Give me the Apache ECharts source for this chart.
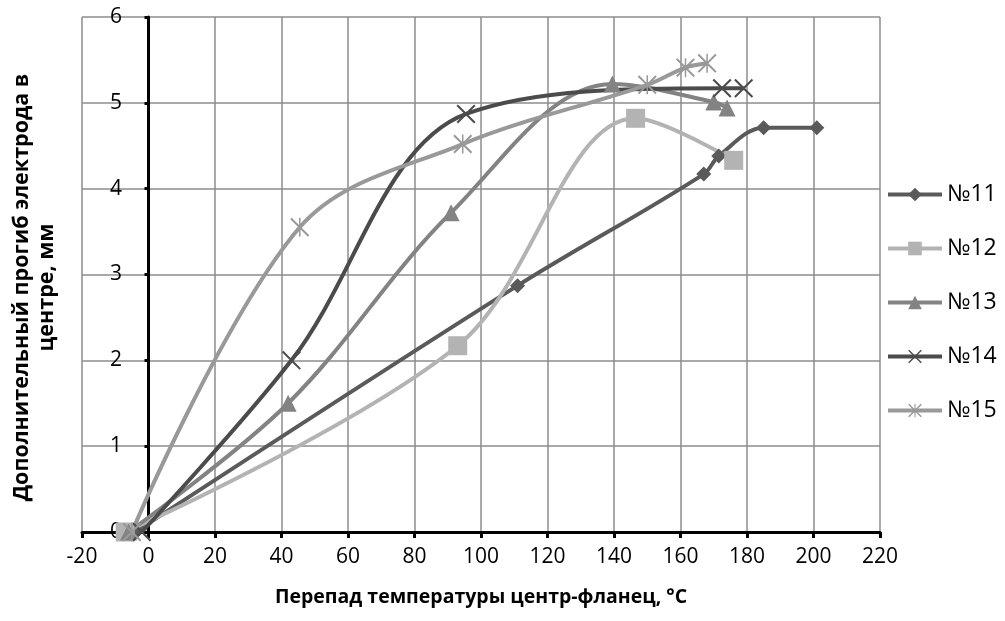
<!DOCTYPE html>
<html>
<head>
<meta charset="utf-8">
<script src="https://cdn.jsdelivr.net/npm/echarts@6/dist/echarts.min.js"></script>
<style>
  html, body { margin: 0; padding: 0; background: #fff; }
  #chart { width: 1005px; height: 621px; }
</style>
</head>
<body>
<div id="chart"></div>
<script>
// Temperature difference centre–flange (°C) vs. extra electrode deflection (mm)
const seriesNames = ['№11', '№12', '№13', '№14', '№15'];

const s11x = [-4, 111, 167, 171.5, 185, 201];
const s11y = [0, 2.87, 4.17, 4.38, 4.71, 4.71];

const s12x = [-7, 93, 146.5, 176];
const s12y = [0, 2.17, 4.82, 4.33];

const s13x = [-6, 42, 91, 139.5, 170, 174];
const s13y = [0, 1.5, 3.72, 5.22, 5.01, 4.94];

const s14x = [-2, 43, 95.5, 172.5, 179];
const s14y = [0, 2.0, 4.87, 5.17, 5.17];

const s15x = [-5, 45.5, 94.5, 150, 161.5, 168];
const s15y = [0, 3.55, 4.52, 5.21, 5.41, 5.46];

const xTicks = { min: -20, max: 220, step: 20 };
const yTicks = { min: 0, max: 6, step: 1 };

const xTitle = 'Перепад температуры центр-фланец, °C';
const yTitle = 'Дополнительный прогиб электрода в\nцентре, мм';

const FONT = '"Open Sans", "Noto Sans", sans-serif';

// thin-stroke marker shapes built as filled outlines
const crossPath = 'path://M1.5,0 L10,8.5 L18.5,0 L20,1.5 L11.5,10 L20,18.5 L18.5,20 L10,11.5 L1.5,20 L0,18.5 L8.5,10 L0,1.5 Z';
const starPath = crossPath + ' M9.2,0 L10.8,0 L10.8,20 L9.2,20 Z';

const styles = [
  { color: '#5a5a5a', symbol: 'diamond', size: 15 },
  { color: '#b3b3b3', symbol: 'rect', size: 19 },
  { color: '#838383', symbol: 'triangle', size: 17 },
  { color: '#4b4b4b', symbol: crossPath, size: 19 },
  { color: '#999999', symbol: starPath, size: 19 }
];

const xs = [s11x, s12x, s13x, s14x, s15x];
const ys = [s11y, s12y, s13y, s14y, s15y];

const series = seriesNames.map((name, i) => ({
  name: name,
  type: 'line',
  smooth: 0.35,
  data: xs[i].map((x, k) => [x, ys[i][k]]),
  symbol: styles[i].symbol,
  symbolSize: styles[i].size,
  showAllSymbol: true,
  lineStyle: { color: styles[i].color, width: 4 },
  itemStyle: { color: styles[i].color },
  emphasis: { disabled: true },
  animation: false
}));

const chart = echarts.init(document.getElementById('chart'), null, { renderer: 'canvas' });
chart.setOption({
  animation: false,
  backgroundColor: '#ffffff',
  textStyle: { fontFamily: FONT },
  grid: { left: 82, right: 125, top: 17, bottom: 89, containLabel: false, outerBoundsMode: 'none' },
  xAxis: {
    type: 'value',
    min: xTicks.min, max: xTicks.max, interval: xTicks.step,
    name: xTitle,
    nameLocation: 'middle',
    nameGap: 55,
    nameTextStyle: { fontFamily: FONT, fontSize: 19.5, fontWeight: 'bold', color: '#000' },
    axisLine: { onZero: false, lineStyle: { color: '#000', width: 3 } },
    axisTick: { show: true, length: 6, lineStyle: { color: '#000', width: 3 } },
    axisLabel: { fontFamily: FONT, fontSize: 21, color: '#000', margin: 15 },
    splitLine: { show: true, lineStyle: { color: '#8c8c8c', width: 1.5 } }
  },
  yAxis: {
    type: 'value',
    min: yTicks.min, max: yTicks.max, interval: yTicks.step,
    axisLine: { show: true, onZero: true, lineStyle: { color: '#000', width: 3 } },
    axisTick: { show: true, length: 4, lineStyle: { color: '#000', width: 3 } },
    // labels sit just left of the vertical axis at x = 0
    axisLabel: { fontFamily: FONT, fontSize: 21, color: '#000', margin: -40 },
    splitLine: { show: true, lineStyle: { color: '#8c8c8c', width: 1.5 } }
  },
  graphic: [{
    type: 'text',
    x: 34,
    y: 287.5,
    rotation: Math.PI / 2,
    style: {
      text: yTitle,
      fontFamily: FONT,
      fontSize: 21.5,
      fontWeight: 'bold',
      fill: '#000',
      lineHeight: 25,
      align: 'center',
      verticalAlign: 'middle'
    }
  }],
  legend: {
    orient: 'vertical',
    left: 881,
    top: 178,
    itemWidth: 54,
    itemHeight: 17,
    itemGap: 31,
    lineStyle: { width: 4 },
    textStyle: { fontFamily: FONT, fontSize: 23, color: '#000' },
    data: seriesNames
  },
  series: series
});
</script>
</body>
</html>
